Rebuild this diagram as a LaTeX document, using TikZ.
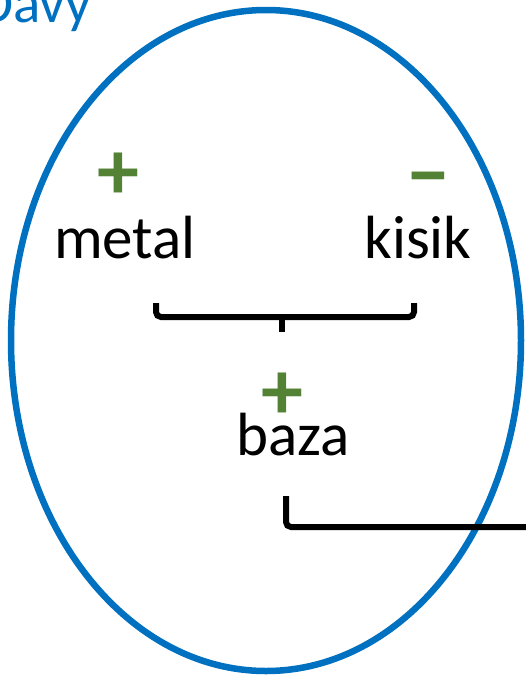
\documentclass[tikz,border=0pt]{standalone}
\usepackage{fontspec}
\setmainfont{Carlito}
\definecolor{davyblue}{HTML}{0070C0}
\definecolor{chargegreen}{HTML}{548235}
\begin{document}
\begin{tikzpicture}[x=1pt,y=-1pt,
  word/.style={inner sep=0pt,anchor=base,font=\fontsize{61}{73}\selectfont},
  charge/.style={inner sep=0pt,text=chargegreen,font=\bfseries\fontsize{84}{90}\selectfont},
  brace/.style={line width=6pt,rounded corners=5pt}]
\useasboundingbox (0,0) rectangle (526,678);
\clip (0,0) rectangle (526,678);

% title, partly outside the frame
\node[inner sep=0pt,anchor=base east,text=davyblue,font=\fontsize{57}{66}\selectfont] (title) at (92,22) {Davy};

% the ellipse
\draw[davyblue,line width=6.5pt] (266,340.5) ellipse [x radius=255,y radius=330.5];

% words
\node[word] (metal) at (125,258) {metal};
\node[word] (kisik) at (418,258) {kisik};
\node[word] (baza) at (293,455) {baza};

% charges (same strut so both signs sit on the same axis)
\node[charge] (pm) at (118,176) {\vphantom{+}+};
\node[charge] (mk) at (428,179) {\vphantom{+}−};
\node[charge] (pb) at (282.5,396) {\vphantom{+}+};

% bracket joining metal and kisik
\coordinate (b1l) at (156,303);
\coordinate (b1r) at (414,303);
\coordinate (b1m) at (282,317);
\coordinate (b1s) at (282,332);
\draw[brace] (b1l) -- (b1l |- b1m) -- (b1r |- b1m) -- (b1r);
\draw[line width=6pt] (b1m) -- (b1s);

% bracket leaving baza
\coordinate (b2t) at (286,496);
\coordinate (b2e) at (540,527);
\draw[brace] (b2t) -- (b2t |- b2e) -- (b2e);
\end{tikzpicture}
\end{document}
